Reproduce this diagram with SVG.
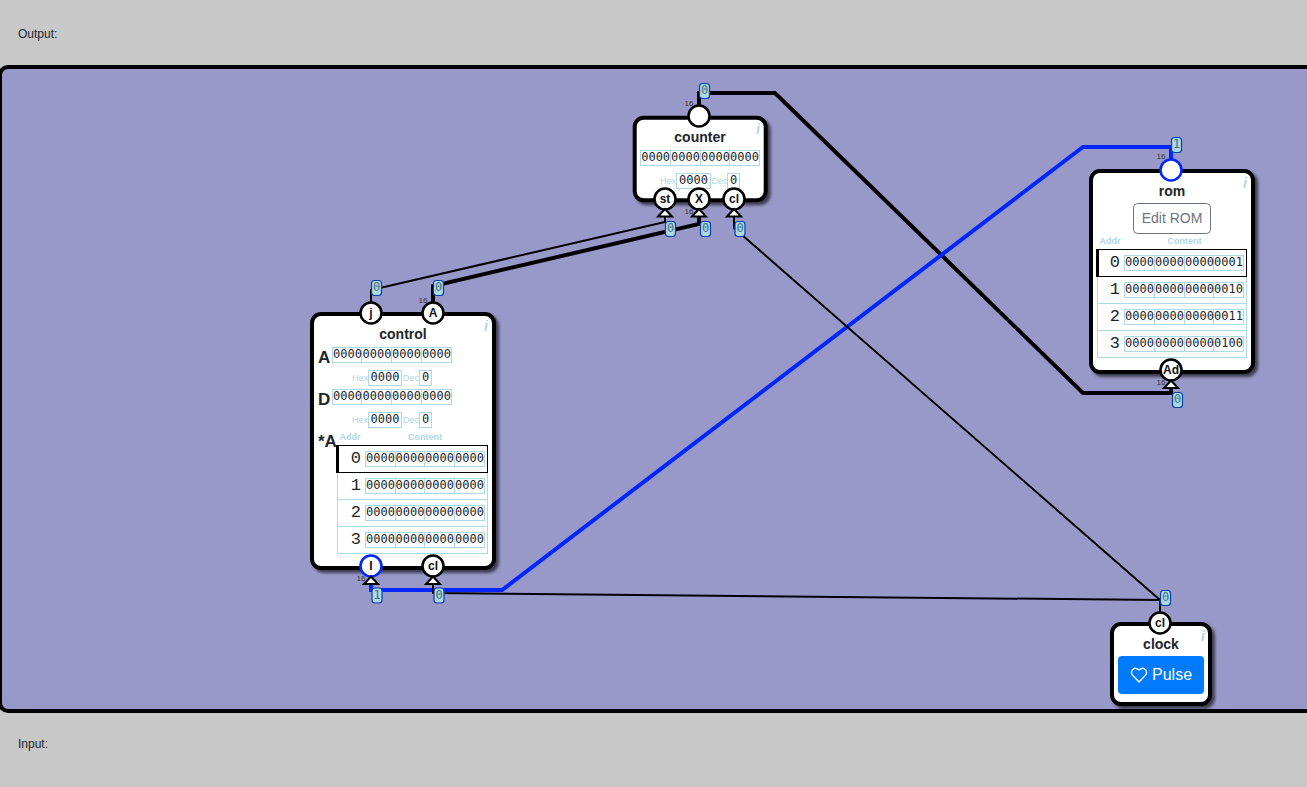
<svg xmlns="http://www.w3.org/2000/svg" width="1307" height="787" viewBox="0 0 1307 787">
<defs>
<filter id="sh" x="-10%" y="-10%" width="125%" height="125%"><feDropShadow dx="3" dy="3" stdDeviation="1.5" flood-color="#000" flood-opacity="0.6"/></filter>
<g id="tri"><path d="M0 -7.5L7 0H-7Z" fill="#fff" stroke="#000" stroke-width="2" stroke-linejoin="miter"/></g>
</defs>
<style>
text{font-family:"Liberation Sans",Arial,sans-serif;fill:#212529}
.box{fill:#fff;stroke:#000;stroke-width:4;filter:url(#sh)}
.title{font-size:14px;font-weight:bold;text-anchor:middle}
.info{font-size:14px;font-weight:bold;font-style:italic;fill:#add8e6;text-anchor:middle}
.port{fill:#fff;stroke:#000;stroke-width:2.5}
.portb{fill:#fff;stroke:#0026ff;stroke-width:2.5}
.pl{font-size:12px;font-weight:bold;text-anchor:middle;fill:#111}
.w16{font-size:8px;fill:#333;text-anchor:middle}
.dig{font-family:"DejaVu Sans Mono",monospace;font-size:12px;fill:#212529}
.cell{fill:#fff;stroke:#add8e6;stroke-width:1}
.lab{font-size:9px;fill:#add8e6}
.hd{font-size:9px;font-weight:bold;fill:#add8e6;text-anchor:middle}
.reg{font-size:17px;font-weight:bold}
.idx{font-family:"Liberation Mono",monospace;font-size:17px;text-anchor:end}
.row{fill:#fff;stroke:#add8e6;stroke-width:1}
.sel{fill:#fff;stroke:#000;stroke-width:1}
.wk{fill:none;stroke:#000;stroke-width:4;stroke-linejoin:miter}
.wt{fill:none;stroke:#000;stroke-width:2}
.wb{fill:none;stroke:#0026ff;stroke-width:4}
.bv rect{fill:#add8e6;stroke:#0a3fa8;stroke-width:1.2}
.bv text{font-family:"DejaVu Sans Mono",monospace;font-size:12px;fill:#3d6f7d;text-anchor:middle}
</style>
<rect width="1307" height="787" fill="#c8c8c8"/>
<text x="18" y="38" font-size="12">Output:</text>
<text x="18" y="748" font-size="12">Input:</text>
<rect x="0" y="67" width="1340" height="644" rx="8" fill="#9999c9" stroke="#000" stroke-width="4"/>

<g id="connectors">
<path class="wk" d="M699 115V93H775L1083 393H1171V384"/>
<path class="wb" d="M371 578V590H502L1083 147H1171V162"/>
<path class="wt" d="M371 304V290L665 222V212"/>
<path class="wk" d="M433 304V286L699 224V212"/>
<path class="wt" d="M734 212V228L1160 600V614"/>
<path class="wt" d="M433 582V593L1160 600"/>
</g>

<g id="counter">
<rect class="box" x="634.7" y="117.7" width="131" height="82.6" rx="9"/>
<text class="title" x="700" y="142">counter</text>
<text class="info" x="758" y="134">i</text>
<g>
<rect class="cell" x="640.5" y="150.5" width="30" height="15"/><rect class="cell" x="670.5" y="150.5" width="30" height="15"/><rect class="cell" x="700.5" y="150.5" width="29" height="15"/><rect class="cell" x="729.5" y="150.5" width="30" height="15"/>
<text class="dig" x="641.2" y="161">0000</text><text class="dig" x="671" y="161">0000</text><text class="dig" x="701" y="161">0000</text><text class="dig" x="730" y="161">0000</text>
</g>
<text class="lab" x="660" y="184">Hex</text>
<rect class="cell" x="676.5" y="173.5" width="34" height="15"/><text class="dig" x="679" y="184">0000</text>
<text class="lab" x="711.5" y="184">Dec</text>
<rect class="cell" x="727.5" y="173.5" width="12" height="15"/><text class="dig" x="730" y="184">0</text>
<circle class="port" cx="699" cy="116" r="10.5"/>
<circle class="port" cx="665" cy="199" r="10.5"/><text class="pl" x="665" y="203">st</text>
<circle class="port" cx="699" cy="199" r="10.5"/><text class="pl" x="699" y="203">X</text>
<circle class="port" cx="734" cy="199" r="10.5"/><text class="pl" x="734" y="203">cl</text>
<use href="#tri" x="665" y="216.5"/><use href="#tri" x="699" y="216.5"/><use href="#tri" x="734" y="216.5"/>
<text class="w16" x="689" y="106">16</text><text class="w16" x="689" y="214">16</text>
</g>

<g id="control">
<rect class="box" x="312" y="314" width="182" height="254" rx="9"/>
<text class="title" x="403" y="339">control</text>
<text class="info" x="486" y="331">i</text>
<text class="reg" x="318" y="363">A</text>
<rect class="cell" x="332.5" y="347.5" width="29" height="15"/><rect class="cell" x="361.5" y="347.5" width="30" height="15"/><rect class="cell" x="391.5" y="347.5" width="30" height="15"/><rect class="cell" x="421.5" y="347.5" width="30" height="15"/>
<text class="dig" x="333" y="358">0000</text><text class="dig" x="362.5" y="358">0000</text><text class="dig" x="392" y="358">0000</text><text class="dig" x="422" y="358">0000</text>
<text class="lab" x="352" y="381">Hex</text>
<rect class="cell" x="368.5" y="370.5" width="33" height="15"/><text class="dig" x="370.5" y="381">0000</text>
<text class="lab" x="403" y="381">Dec</text>
<rect class="cell" x="419.5" y="370.5" width="12" height="15"/><text class="dig" x="422" y="381">0</text>
<text class="reg" x="318" y="405">D</text>
<rect class="cell" x="332.5" y="389.5" width="29" height="15"/><rect class="cell" x="361.5" y="389.5" width="30" height="15"/><rect class="cell" x="391.5" y="389.5" width="30" height="15"/><rect class="cell" x="421.5" y="389.5" width="30" height="15"/>
<text class="dig" x="333" y="400">0000</text><text class="dig" x="362.5" y="400">0000</text><text class="dig" x="392" y="400">0000</text><text class="dig" x="422" y="400">0000</text>
<text class="lab" x="352" y="423">Hex</text>
<rect class="cell" x="368.5" y="412.5" width="33" height="15"/><text class="dig" x="370.5" y="423">0000</text>
<text class="lab" x="403" y="423">Dec</text>
<rect class="cell" x="419.5" y="412.5" width="12" height="15"/><text class="dig" x="422" y="423">0</text>
<text class="reg" x="318" y="447">*A</text>
<text class="hd" x="350" y="440">Addr</text><text class="hd" x="425" y="440">Content</text>
<rect class="row" x="337.5" y="472.5" width="150" height="27"/><rect class="row" x="337.5" y="499.5" width="150" height="27"/><rect class="row" x="337.5" y="526.5" width="150" height="27"/>
<rect class="sel" x="337.5" y="445.5" width="150" height="27"/><rect x="336" y="445" width="3" height="28" fill="#000"/>
<text class="idx" x="361" y="463">0</text><text class="idx" x="361" y="490">1</text><text class="idx" x="361" y="517">2</text><text class="idx" x="361" y="544">3</text>
<g>
<rect class="cell" x="365.5" y="451.5" width="30" height="15"/><rect class="cell" x="395.5" y="451.5" width="29" height="15"/><rect class="cell" x="424.5" y="451.5" width="30" height="15"/><rect class="cell" x="454.5" y="451.5" width="30" height="15"/>
<text class="dig" x="366" y="462">0000</text><text class="dig" x="395.5" y="462">0000</text><text class="dig" x="425" y="462">0000</text><text class="dig" x="455" y="462">0000</text>
<rect class="cell" x="365.5" y="478.5" width="30" height="15"/><rect class="cell" x="395.5" y="478.5" width="29" height="15"/><rect class="cell" x="424.5" y="478.5" width="30" height="15"/><rect class="cell" x="454.5" y="478.5" width="30" height="15"/>
<text class="dig" x="366" y="489">0000</text><text class="dig" x="395.5" y="489">0000</text><text class="dig" x="425" y="489">0000</text><text class="dig" x="455" y="489">0000</text>
<rect class="cell" x="365.5" y="505.5" width="30" height="15"/><rect class="cell" x="395.5" y="505.5" width="29" height="15"/><rect class="cell" x="424.5" y="505.5" width="30" height="15"/><rect class="cell" x="454.5" y="505.5" width="30" height="15"/>
<text class="dig" x="366" y="516">0000</text><text class="dig" x="395.5" y="516">0000</text><text class="dig" x="425" y="516">0000</text><text class="dig" x="455" y="516">0000</text>
<rect class="cell" x="365.5" y="532.5" width="30" height="15"/><rect class="cell" x="395.5" y="532.5" width="29" height="15"/><rect class="cell" x="424.5" y="532.5" width="30" height="15"/><rect class="cell" x="454.5" y="532.5" width="30" height="15"/>
<text class="dig" x="366" y="543">0000</text><text class="dig" x="395.5" y="543">0000</text><text class="dig" x="425" y="543">0000</text><text class="dig" x="455" y="543">0000</text>
</g>
<circle class="port" cx="371" cy="313" r="10.5"/><text class="pl" x="371" y="317">j</text>
<circle class="port" cx="433" cy="313" r="10.5"/><text class="pl" x="433" y="317">A</text>
<circle class="portb" cx="371" cy="566" r="10.5"/><text class="pl" x="371" y="570">I</text>
<circle class="port" cx="433" cy="566" r="10.5"/><text class="pl" x="433" y="570">cl</text>
<use href="#tri" x="371" y="584"/><use href="#tri" x="433" y="584"/>
<text class="w16" x="423" y="303">16</text><text class="w16" x="361" y="581">16</text>
</g>

<g id="rom">
<rect class="box" x="1091" y="171" width="162" height="201" rx="9"/>
<text class="title" x="1172" y="196">rom</text>
<text class="info" x="1245" y="188">i</text>
<rect x="1133.5" y="203.5" width="77" height="30" rx="4" fill="#fff" stroke="#6c757d"/>
<text x="1172" y="223" font-size="14" text-anchor="middle" style="fill:#6c757d">Edit ROM</text>
<text class="hd" x="1110" y="244">Addr</text><text class="hd" x="1184.5" y="244">Content</text>
<rect class="row" x="1097.5" y="276.5" width="149" height="27"/><rect class="row" x="1097.5" y="303.5" width="149" height="27"/><rect class="row" x="1097.5" y="330.5" width="149" height="27"/>
<rect class="sel" x="1097.5" y="249.5" width="149" height="27"/><rect x="1096" y="249" width="3" height="28" fill="#000"/>
<text class="idx" x="1120" y="267">0</text><text class="idx" x="1120" y="294">1</text><text class="idx" x="1120" y="321">2</text><text class="idx" x="1120" y="348">3</text>
<rect class="cell" x="1124.5" y="255.5" width="30" height="15"/><rect class="cell" x="1154.5" y="255.5" width="30" height="15"/><rect class="cell" x="1184.5" y="255.5" width="29" height="15"/><rect class="cell" x="1213.5" y="255.5" width="30" height="15"/>
<text class="dig" x="1125" y="266">0000</text><text class="dig" x="1155" y="266">0000</text><text class="dig" x="1185" y="266">0000</text><text class="dig" x="1214" y="266">0001</text>
<rect class="cell" x="1124.5" y="282.5" width="30" height="15"/><rect class="cell" x="1154.5" y="282.5" width="30" height="15"/><rect class="cell" x="1184.5" y="282.5" width="29" height="15"/><rect class="cell" x="1213.5" y="282.5" width="30" height="15"/>
<text class="dig" x="1125" y="293">0000</text><text class="dig" x="1155" y="293">0000</text><text class="dig" x="1185" y="293">0000</text><text class="dig" x="1214" y="293">0010</text>
<rect class="cell" x="1124.5" y="309.5" width="30" height="15"/><rect class="cell" x="1154.5" y="309.5" width="30" height="15"/><rect class="cell" x="1184.5" y="309.5" width="29" height="15"/><rect class="cell" x="1213.5" y="309.5" width="30" height="15"/>
<text class="dig" x="1125" y="320">0000</text><text class="dig" x="1155" y="320">0000</text><text class="dig" x="1185" y="320">0000</text><text class="dig" x="1214" y="320">0011</text>
<rect class="cell" x="1124.5" y="336.5" width="30" height="15"/><rect class="cell" x="1154.5" y="336.5" width="30" height="15"/><rect class="cell" x="1184.5" y="336.5" width="29" height="15"/><rect class="cell" x="1213.5" y="336.5" width="30" height="15"/>
<text class="dig" x="1125" y="347">0000</text><text class="dig" x="1155" y="347">0000</text><text class="dig" x="1185" y="347">0000</text><text class="dig" x="1214" y="347">0100</text>
<circle class="portb" cx="1171" cy="170" r="10.5"/>
<circle class="port" cx="1171" cy="370" r="10.5"/><text class="pl" x="1171" y="374">Ad</text>
<use href="#tri" x="1171" y="388"/>
<text class="w16" x="1161" y="159">16</text><text class="w16" x="1161" y="385">16</text>
</g>

<g id="clock">
<rect class="box" x="1112" y="624" width="98" height="80" rx="9"/>
<text class="title" x="1161" y="649">clock</text>
<text class="info" x="1203" y="641">i</text>
<rect x="1118" y="656" width="86" height="38" rx="4" fill="#007bff"/>
<path d="M1139 682L1132.800 675.500C1129.500 671.500 1133.500 665.500 1139 670C1144.500 665.500 1148.500 671.500 1145.200 675.500Z" fill="none" stroke="#fff" stroke-width="1.300"/>
<text x="1152" y="680" font-size="16" style="fill:#fff">Pulse</text>
<circle class="port" cx="1160" cy="623" r="10.5"/><text class="pl" x="1160" y="627">cl</text>
</g>

<g id="values">
<g class="bv"><rect x="699.5" y="83.500" width="10" height="15" rx="3"/><text x="704.500" y="94">0</text></g>
<g class="bv"><rect x="665.5" y="221.500" width="10" height="15" rx="3"/><text x="670.500" y="232">0</text></g>
<g class="bv"><rect x="700.5" y="221.500" width="10" height="15" rx="3"/><text x="705.500" y="232">0</text></g>
<g class="bv"><rect x="735" y="221.500" width="10" height="15" rx="3"/><text x="740" y="232">0</text></g>
<g class="bv"><rect x="371.5" y="280.500" width="10" height="15" rx="3"/><text x="376.500" y="291">0</text></g>
<g class="bv"><rect x="433.5" y="280.500" width="10" height="15" rx="3"/><text x="438.500" y="291">0</text></g>
<g class="bv"><rect x="372" y="588" width="10" height="15" rx="3"/><text x="377" y="599">1</text></g>
<g class="bv"><rect x="434" y="588" width="10" height="15" rx="3"/><text x="439" y="599">0</text></g>
<g class="bv"><rect x="1160.5" y="590.500" width="10" height="15" rx="3"/><text x="1165.500" y="601">0</text></g>
<g class="bv"><rect x="1171.5" y="137.500" width="10" height="15" rx="3"/><text x="1176.500" y="148">1</text></g>
<g class="bv"><rect x="1172.5" y="392.500" width="10" height="15" rx="3"/><text x="1177.500" y="403">0</text></g>
</g>
</svg>
